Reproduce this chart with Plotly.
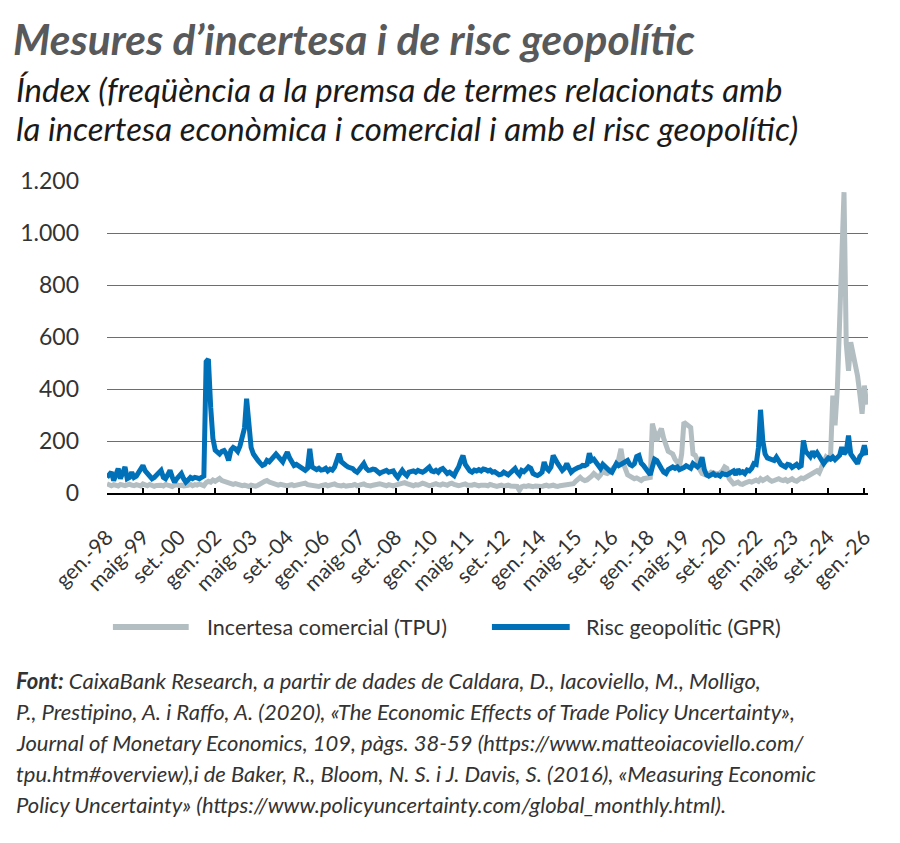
import pandas as pd
import plotly.graph_objects as go

# ---------------- data (monthly, Jan 1998 - Feb 2026) ----------------
tpu = [
    35, 30, 28, 32, 30, 27, 33, 30, 28, 31, 34, 30,   # 1998
    28, 32, 30, 27, 35, 30, 28, 33, 30, 26, 29, 32,   # 1999
    30, 27, 33, 30, 28, 25, 30, 32, 28, 30, 27, 31,   # 2000
    30, 33, 28, 32, 30, 35, 30, 28, 40, 45, 42, 50,   # 2001
    45, 50, 56, 48, 45, 40, 38, 35, 33, 36, 32, 30,   # 2002
    28, 30, 27, 25, 30, 28, 26, 30, 33, 40, 45, 48,   # 2003
    42, 38, 35, 32, 30, 33, 30, 28, 27, 30, 32, 28,   # 2004
    30, 33, 30, 35, 38, 32, 30, 28, 30, 27, 25, 28,   # 2005
    30, 32, 28, 30, 33, 35, 30, 28, 27, 30, 26, 28,   # 2006
    27, 30, 33, 28, 30, 32, 35, 30, 28, 27, 30, 32,   # 2007
    30, 35, 33, 30, 28, 32, 30, 27, 30, 33, 35, 38,   # 2008
    40, 36, 33, 30, 28, 32, 30, 34, 38, 35, 30, 28,   # 2009
    30, 33, 36, 32, 30, 35, 33, 30, 35, 38, 33, 30,   # 2010
    28, 30, 32, 35, 30, 28, 30, 33, 30, 27, 30, 32,   # 2011
    30, 28, 33, 30, 27, 25, 28, 30, 26, 28, 30, 27,   # 2012
    26, 28, 25, 10, 24, 27, 25, 28, 26, 24, 27, 25,   # 2013
    27, 25, 28, 30, 26, 28, 30, 27, 25, 28, 30, 32,   # 2014
    30, 32, 35, 36, 45, 55, 60, 52, 48, 50, 55, 65,   # 2015
    75, 65, 60, 70, 87, 78, 75, 80, 90, 106, 110, 130,  # 2016
    170, 115, 85, 70, 65, 60, 55, 58, 50, 48, 55, 56,   # 2017
    58, 60, 267, 220, 200, 230, 248, 210, 175, 160, 155, 150,  # 2018
    130, 119, 100, 150, 272, 265, 258, 252, 150, 145, 125, 90,  # 2019
    75, 70, 68, 72, 80, 78, 75, 72, 78, 85, 100, 95,   # 2020
    55, 40, 35, 38, 42, 35, 33, 38, 40, 45, 42, 48,   # 2021
    50, 45, 55, 48, 52, 58, 50, 45, 48, 52, 55, 50,   # 2022
    48, 52, 45, 50, 55, 48, 45, 52, 58, 55, 60, 65,   # 2023
    70, 75, 80, 85, 78, 100, 110, 138, 130, 140, 375, 260,  # 2024
    400, 620, 850, 1157, 575, 470, 580, 540, 500, 450, 380, 305,  # 2025
    413, 340,                                          # 2026
]

gpr = [
    60, 75, 80, 48, 70, 94, 55, 75, 100, 55, 60, 80,     # 1998
    60, 65, 80, 95, 106, 85, 75, 60, 55, 60, 70, 80,     # 1999
    87, 60, 55, 70, 87, 60, 42, 55, 65, 75, 55, 42,      # 2000
    50, 60, 55, 60, 58, 55, 60, 65, 505, 515, 330, 210,  # 2001
    165, 155, 150, 160, 163, 150, 125, 165, 175, 170, 160, 180,  # 2002
    215, 250, 363, 250, 175, 150, 135, 125, 115, 106, 110, 125,  # 2003
    120, 130, 145, 150, 140, 130, 120, 140, 157, 135, 115, 106,  # 2004
    110, 105, 100, 95, 87, 95, 170, 100, 95, 90, 95, 88,   # 2005
    90, 95, 85, 92, 88, 100, 125, 151, 120, 110, 106, 100,  # 2006
    96, 94, 85, 80, 90, 100, 113, 95, 87, 88, 92, 90,     # 2007
    80, 75, 80, 85, 87, 80, 82, 85, 70, 60, 75, 87,       # 2008
    75, 67, 80, 82, 85, 80, 87, 83, 80, 85, 95, 100,      # 2009
    85, 82, 87, 80, 90, 94, 85, 75, 80, 72, 67, 85,       # 2010
    100, 125, 144, 110, 94, 85, 80, 88, 85, 90, 85, 92,   # 2011
    90, 85, 88, 80, 82, 75, 70, 72, 80, 75, 70, 78,       # 2012
    85, 94, 80, 70, 87, 82, 90, 100, 95, 75, 70, 67,      # 2013
    72, 80, 119, 95, 87, 100, 144, 125, 113, 100, 87, 95,  # 2014
    113, 95, 80, 88, 94, 98, 100, 106, 105, 110, 153, 125,  # 2015
    130, 115, 100, 94, 110, 100, 90, 85, 80, 95, 113, 105,  # 2016
    110, 115, 120, 125, 110, 105, 112, 140, 144, 115, 106, 95,  # 2017
    85, 70, 100, 130, 125, 105, 94, 80, 75, 90, 95, 100,   # 2018
    95, 100, 90, 92, 98, 105, 100, 95, 113, 105, 100, 108,  # 2019
    138, 90, 70, 65, 72, 75, 68, 70, 65, 75, 72, 70,      # 2020
    75, 80, 85, 70, 90, 78, 82, 75, 88, 85, 95, 113,      # 2021
    110, 175, 320, 200, 150, 135, 130, 128, 125, 138, 120, 110,  # 2022
    105, 100, 110, 108, 98, 105, 110, 100, 105, 202, 160, 150,   # 2023
    140, 160, 145, 155, 138, 120, 113, 125, 135, 130, 138, 128,  # 2024
    140, 145, 176, 150, 160, 221, 150, 140, 125, 113, 140, 150,  # 2025
    183, 145,                                              # 2026
]

dates = pd.date_range("1998-01-01", periods=len(tpu), freq="MS")

x_tick_dates = pd.date_range("1998-01-01", "2026-01-01", freq="16MS")
x_tick_labels = ["gen.-98", "maig-99", "set.-00", "gen.-02", "maig-03", "set.-04",
                 "gen.-06", "maig-07", "set.-08", "gen.-10", "maig-11", "set.-12",
                 "gen.-14", "maig-15", "set.-16", "gen.-18", "maig-19", "set.-20",
                 "gen.-22", "maig-23", "set.-24", "gen.-26"]
y_tick_vals = [0, 200, 400, 600, 800, 1000, 1200]
y_tick_labels = ["0", "200", "400", "600", "800", "1.000", "1.200"]

series_names = ["Incertesa comercial (TPU)", "Risc geopolític (GPR)"]
series_colors = ["#b3bec3", "#0071b9"]

# ---------------- layout constants ----------------
W, H = 900, 843
OFF = 8  # page body margin in the browser
ML, MR, MT, MB = 87, 40, 173, 358
PW, PH = W - ML - MR, H - MT - MB
FONT = "Lato"
TXT = "#333333"


def xp(px):
    """screen x pixel -> paper coordinate"""
    return (px - OFF - ML) / PW


def yp(py):
    """screen y pixel -> paper coordinate"""
    return (MT + PH - (py - OFF)) / PH


fig = go.Figure()
for vals, name, col in zip([tpu, gpr], series_names, series_colors):
    fig.add_trace(go.Scatter(x=dates, y=vals, mode="lines", name=name,
                             line=dict(color=col, width=5), showlegend=False))

fig.update_layout(
    width=W, height=H,
    margin=dict(l=ML, r=MR, t=MT, b=MB),
    paper_bgcolor="white", plot_bgcolor="white",
    font=dict(family=FONT, color=TXT),
)
fig.update_xaxes(
    type="date", range=["1998-01-01", "2026-02-19"],
    tickvals=x_tick_dates, ticktext=x_tick_labels, tickangle=-45,
    tickfont=dict(size=21, color=TXT, family=FONT),
    showline=True, linecolor="black", linewidth=1.5,
    ticks="inside", ticklen=5, tickwidth=1.5, tickcolor="black",
    showgrid=False, zeroline=False, ticklabelstandoff=22,
)
fig.update_yaxes(
    range=[0, 1200], tickvals=y_tick_vals, ticktext=y_tick_labels,
    tickfont=dict(size=23, color=TXT, family=FONT),
    showgrid=True, gridcolor="#6e6e6e", gridwidth=1,
    zeroline=False, showline=False, ticks="", ticklabelstandoff=27,
)

# title / subtitle
fig.add_annotation(text="<b><i>Mesures d’incertesa i de risc geopolític</i></b>",
                   x=xp(-3), y=yp(38), xref="paper", yref="paper",
                   xanchor="left", yanchor="middle", showarrow=False,
                   font=dict(size=42.5, color="#58595b", family=FONT))
for txt, cy in [("<i>Índex (freqüència a la premsa de termes relacionats amb</i>", 89),
                ("<i>la incertesa econòmica i comercial i amb el risc geopolític)</i>", 128)]:
    fig.add_annotation(text=txt, x=xp(1), y=yp(cy), xref="paper", yref="paper",
                       xanchor="left", yanchor="middle", showarrow=False,
                       font=dict(size=33, color="#1a1a1a", family=FONT))

# legend (drawn manually to match long line samples)
leg = [(101, 178, 195), (486, 565, 580)]
for (x0, x1, tx), name, col in zip(leg, series_names, series_colors):
    fig.add_shape(type="line", xref="paper", yref="paper",
                  x0=xp(x0), x1=xp(x1), y0=yp(627), y1=yp(627),
                  line=dict(color=col, width=6))
    fig.add_annotation(text=name, x=xp(tx), y=yp(627), xref="paper", yref="paper",
                       xanchor="left", yanchor="middle", showarrow=False,
                       font=dict(size=21.5, color=TXT, family=FONT))

# source note
notes = [
    "<b>Font:</b> CaixaBank Research, a partir de dades de Caldara, D., Iacoviello, M., Molligo,",
    "P., Prestipino, A. i Raffo, A. (2020), «The Economic Effects of Trade Policy Uncertainty»,",
    "Journal of Monetary Economics, 109, pàgs. 38-59 (https://www.matteoiacoviello.com/",
    "tpu.htm#overview),i de Baker, R., Bloom, N. S. i J. Davis, S. (2016), «Measuring Economic",
    "Policy Uncertainty» (https://www.policyuncertainty.com/global_monthly.html).",
]
for i, line in enumerate(notes):
    fig.add_annotation(text="<i>" + line + "</i>", x=xp(1), y=yp(680 + 31 * i),
                       xref="paper", yref="paper", xanchor="left", yanchor="middle",
                       showarrow=False, font=dict(size=22, color=TXT, family=FONT))

fig.write_html("out.html")
